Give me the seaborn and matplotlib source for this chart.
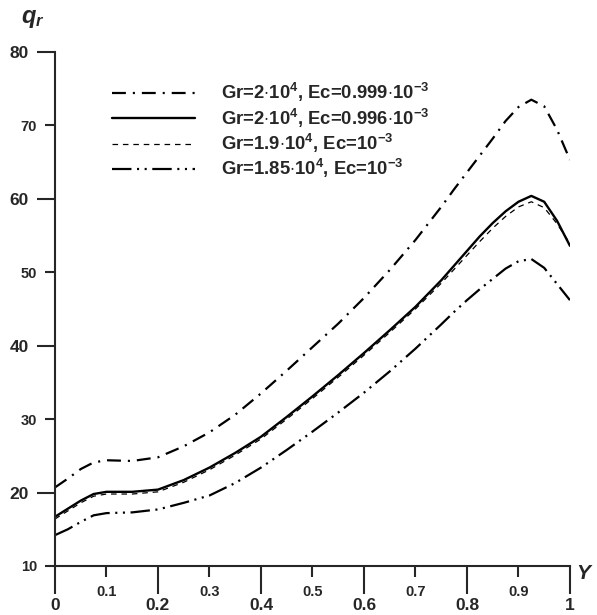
import matplotlib
matplotlib.use("Agg")
from matplotlib import pyplot as plt
import pandas as pd
import seaborn as sns

# values
Y = [0, 0.025, 0.05, 0.075, 0.1, 0.15, 0.2, 0.25, 0.3, 0.35, 0.4, 0.45, 0.5, 0.55,
     0.6, 0.65, 0.7, 0.75, 0.775, 0.8, 0.825, 0.85, 0.875, 0.9, 0.925, 0.95, 0.975, 1.0]
q_a = [20.7, 21.9, 23.2, 24.1, 24.4, 24.3, 24.8, 26.3, 28.2, 30.6, 33.5, 36.6, 39.8, 43.0,
       46.5, 50.3, 54.4, 58.9, 61.3, 63.6, 65.9, 68.2, 70.6, 72.5, 73.5, 72.6, 69.4, 65.3]
q_b = [16.7, 17.8, 18.9, 19.8, 20.1, 20.1, 20.4, 21.7, 23.4, 25.4, 27.6, 30.3, 33.1, 36.0,
       39.0, 42.1, 45.3, 48.9, 50.9, 52.9, 54.9, 56.7, 58.3, 59.6, 60.4, 59.6, 57.0, 53.6]
q_c = [16.4, 17.5, 18.6, 19.5, 19.8, 19.8, 20.1, 21.4, 23.1, 25.1, 27.3, 30.0, 32.8, 35.7,
       38.7, 41.8, 45.0, 48.5, 50.4, 52.3, 54.2, 56.0, 57.6, 58.9, 59.6, 58.8, 56.6, 53.9]
q_d = [14.2, 15.0, 16.0, 16.9, 17.2, 17.3, 17.7, 18.6, 19.6, 21.3, 23.4, 25.8, 28.3, 30.9,
       33.6, 36.5, 39.6, 42.9, 44.6, 46.2, 47.7, 49.1, 50.5, 51.5, 51.8, 50.6, 48.4, 46.2]

labels = [r"Gr=2$\cdot$10$^{4}$, Ec=0.999$\cdot$10$^{-3}$",
          r"Gr=2$\cdot$10$^{4}$, Ec=0.996$\cdot$10$^{-3}$",
          r"Gr=1.9$\cdot$10$^{4}$, Ec=10$^{-3}$",
          r"Gr=1.85$\cdot$10$^{4}$, Ec=10$^{-3}$"]

sns.set_style("ticks")
plt.rcParams["font.family"] = ["Liberation Sans", "DejaVu Sans"]
plt.rcParams["font.weight"] = "bold"
plt.rcParams["mathtext.fontset"] = "custom"
plt.rcParams["mathtext.rm"] = "Liberation Sans:bold"
plt.rcParams["mathtext.it"] = "Liberation Sans:italic:bold"
plt.rcParams["mathtext.bf"] = "Liberation Sans:bold"
plt.rcParams["lines.scale_dashes"] = False

fig = plt.figure(figsize=(5.97, 6.15), dpi=100)
ax = fig.add_axes([0.0921, 0.0797, 0.8626, 0.8358])

styles = [(0, (10, 5, 1.5, 5)), "-", (0, (4, 3.5)), (0, (14, 4, 1.5, 4, 1.5, 4))]
widths = [1.6, 1.7, 0.9, 1.6]
for vals, lab, ls, lw in zip([q_a, q_b, q_c, q_d], labels, styles, widths):
    df = pd.DataFrame({"Y": Y, "q": vals})
    sns.lineplot(data=df, x="Y", y="q", ax=ax, color="black", linestyle=ls,
                 lw=lw, label=lab, estimator=None)

ax.set_xlim(0, 1)
ax.set_ylim(10, 80)
ax.set_xlabel("")
ax.set_ylabel("")
sns.despine(ax=ax)
for s in ["left", "bottom"]:
    ax.spines[s].set_linewidth(1.5)

ax.set_xticks([0, 0.2, 0.4, 0.6, 0.8, 1.0])
ax.set_xticklabels(["0", "0.2", "0.4", "0.6", "0.8", "1"])
ax.set_xticks([0.1, 0.3, 0.5, 0.7, 0.9], minor=True)
ax.set_xticklabels(["0.1", "0.3", "0.5", "0.7", "0.9"], minor=True)
ax.set_yticks([20, 40, 60, 80])
ax.set_yticks([10, 30, 50, 70], minor=True)
ax.set_yticklabels(["10", "30", "50", "70"], minor=True)

ax.tick_params(axis="x", which="major", length=20, width=1.5, labelsize=12.5, pad=3)
ax.tick_params(axis="x", which="minor", length=8, width=1.5, labelsize=10.5, pad=6)
ax.tick_params(axis="y", which="major", length=13, width=1.5, labelsize=12.5, pad=6)
ax.tick_params(axis="y", which="minor", length=7, width=1.5, labelsize=10.5, pad=6)

fig.text(0.055, 0.97, "$q_r$", fontsize=17, ha="center", va="center")
fig.text(0.98, 0.068, "$Y$", fontsize=15, ha="center", va="center")

leg = ax.legend(loc="upper left", bbox_to_anchor=(0.11, 0.943), frameon=False,
                fontsize=13.3, handlelength=4.5, handletextpad=1.4,
                labelspacing=0.12, borderpad=0, borderaxespad=0)

fig.savefig("out.png", dpi=100)
